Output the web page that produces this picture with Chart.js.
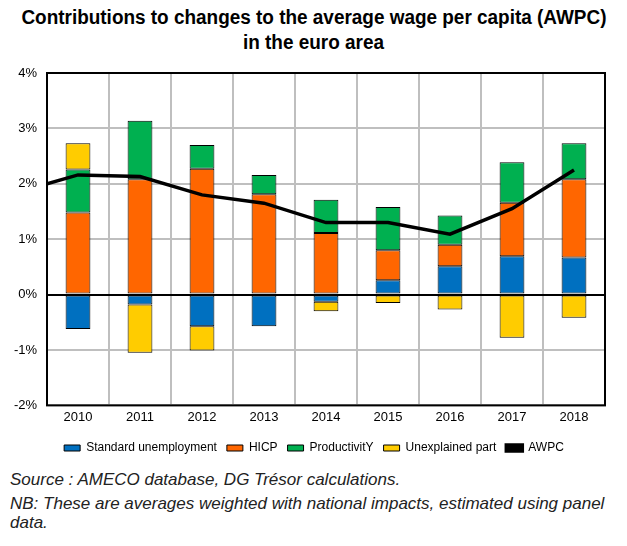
<!DOCTYPE html>
<html>
<head>
<meta charset="utf-8">
<script src="https://cdn.jsdelivr.net/npm/chart.js@4/dist/chart.umd.min.js"></script>
<style>
  html, body { margin: 0; padding: 0; background: #fff; }
  body { width: 627px; height: 546px; position: relative; overflow: hidden; font-family: "Liberation Sans", Arial, sans-serif; }
  #titre { position: absolute; left: 0; top: 5px; width: 627px; text-align: center; font-weight: bold; font-size: 20px; line-height: 25px; color: #000; }
  #titre span { display: inline-block; white-space: nowrap; transform-origin: center; }
  #zone { position: absolute; left: 0; top: 0; width: 627px; height: 464px; }
  .note { position: absolute; left: 10px; font-style: italic; font-size: 17px; color: #222; line-height: 19px; width: 612px; }
</style>
</head>
<body>
<div id="titre"><span id="t1">Contributions to changes to the average wage per capita (AWPC)</span><br><span id="t2">in the euro area</span></div>
<div id="zone"><canvas id="graficoAWPC"></canvas></div>
<div class="note" style="top:470px">Source : AMECO database, DG Trésor calculations.</div>
<div class="note" style="top:494px">NB: These are averages weighted with national impacts, estimated using panel data.</div>
<script>
const anios = ["2010", "2011", "2012", "2013", "2014", "2015", "2016", "2017", "2018"];
const desempleo = [-0.62, -0.18, -0.57, -0.57, -0.13, 0.26, 0.51, 0.69, 0.67];
const hicp = [1.48, 2.08, 2.27, 1.81, 1.11, 0.54, 0.39, 0.97, 1.41];
const productividad = [0.78, 1.06, 0.43, 0.35, 0.60, 0.78, 0.53, 0.73, 0.65];
const inexplicado = [0.47, -0.87, -0.44, null, -0.17, -0.15, -0.27, -0.78, -0.42];
const awpc = [2.16, 2.13, 1.80, 1.65, 1.30, 1.30, 1.09, 1.55, 2.25];
const awpcInicio = 2.0; // the line starts at the left edge of the plot
const ticksY = [-2, -1, 0, 1, 2, 3, 4];

// ajustar el ancho del titulo (letra estrecha)
const t1 = document.getElementById("t1");
const escalaTitulo = 585 / t1.getBoundingClientRect().width;
t1.style.transform = "scaleX(" + escalaTitulo + ")";
document.getElementById("t2").style.transform = "scaleX(" + escalaTitulo + ")";

// puntos de la linea: indice de categoria, con el arranque en el borde
const puntosAWPC = [{ x: -0.5, y: awpcInicio }].concat(awpc.map((v, i) => ({ x: i, y: v })));

const marco = {
  id: "marco",
  afterLayout(chart) {
    // centrar la leyenda en la pagina
    const l = chart.legend;
    const d = 314 - (l.left + l.right) / 2;
    l.left += d;
    l.right += d;
  },
  afterDatasetsDraw(chart) {
    const a = chart.chartArea;
    const ctx = chart.ctx;
    ctx.save();
    ctx.strokeStyle = "#000";
    ctx.lineWidth = 2;
    ctx.strokeRect(a.left, a.top, a.right - a.left, a.bottom - a.top);
    ctx.restore();
  }
};

const barra = (label, data, color) => ({
  type: "bar",
  label: label,
  data: data,
  backgroundColor: color,
  borderColor: "#000",
  borderWidth: 1,
  borderSkipped: false,
  grouped: false,
  barPercentage: 0.4,
  categoryPercentage: 1,
  order: 1
});

const ctx = document.getElementById("graficoAWPC").getContext("2d");
const grafico = new Chart(ctx, {
  type: "bar",
  data: {
    labels: anios,
    datasets: [
      barra("Standard unemployment", desempleo, "#0070C0"),
      barra("HICP", hicp, "#FF6600"),
      barra("ProductivitY", productividad, "#00B050"),
      barra("Unexplained part", inexplicado, "#FFCC00"),
      {
        type: "line",
        label: "AWPC",
        data: puntosAWPC,
        xAxisID: "xLinea",
        borderColor: "#000",
        backgroundColor: "#000",
        borderWidth: 3.5,
        pointRadius: 0,
        tension: 0,
        order: 0
      }
    ]
  },
  options: {
    responsive: true,
    maintainAspectRatio: false,
    animation: false,
    layout: { padding: { top: 73, right: 22, left: 0, bottom: 0 } },
    plugins: {
      title: { display: false },
      tooltip: { enabled: false },
      legend: {
        position: "bottom",
        labels: {
          color: "#000",
          font: { family: "Liberation Sans", size: 12 },
          boxWidth: 16,
          boxHeight: 6,
          padding: 10,
          sort: (a, b) => a.datasetIndex - b.datasetIndex
        }
      }
    },
    scales: {
      x: {
        stacked: true,
        offset: true,
        afterFit: (escala) => { escala.height += 3; },
        grid: { offset: true, color: "#BFBFBF", lineWidth: 2, drawTicks: false },
        border: { display: false },
        ticks: { color: "#000", font: { family: "Liberation Sans", size: 13 }, padding: 4 }
      },
      xLinea: {
        type: "linear",
        display: false,
        offset: false,
        min: -0.5,
        max: 8.5
      },
      y: {
        stacked: true,
        min: -2,
        max: 4,
        afterFit: (escala) => { escala.width = 47; },
        afterBuildTicks: (escala) => { escala.ticks = ticksY.map((v) => ({ value: v })); },
        grid: {
          color: (c) => (c.tick && c.tick.value === 0 ? "#000" : "#BFBFBF"),
          lineWidth: 2,
          drawTicks: false
        },
        border: { display: false },
        ticks: {
          color: "#000",
          font: { family: "Liberation Sans", size: 13 },
          padding: 10,
          callback: (v) => v + "%"
        }
      }
    }
  },
  plugins: [marco]
});
</script>
</body>
</html>
